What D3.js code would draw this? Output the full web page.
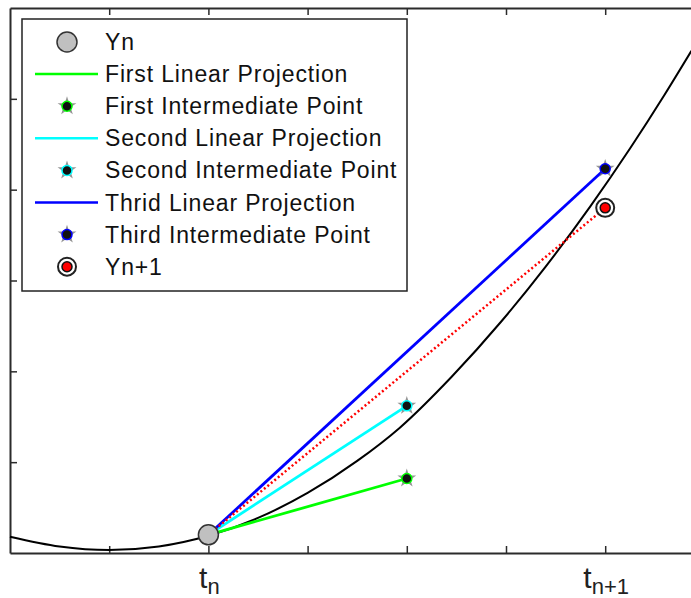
<!DOCTYPE html>
<html>
<head>
<meta charset="utf-8">
<script src="https://cdn.jsdelivr.net/npm/d3@7"></script>
<style>
  body { margin: 0; background: #fff; }
  text { font-family: "Liberation Sans", Arial, sans-serif; }
</style>
</head>
<body>
<div id="chart"></div>
<script>
// black reference curve
var curveT = [0, 0.5, 1.0, 1.5, 2.0, 2.5, 3.0, 3.5, 3.93, 4.45, 4.95, 5.4, 5.85, 6.25, 6.6, 6.87];
var curveY = [0.18, 0.072, 0.033, 0.072, 0.19, 0.386, 0.661, 1.014, 1.38, 1.938, 2.546, 3.153, 3.816, 4.453, 5.048, 5.53];

var yn = [2, 0.2];
var firstPoint = [4, 0.82];
var secondPoint = [4, 1.62];
var thirdPoint = [6, 4.23];
var ynext = [6, 3.8];

var xTicks = [1, 2, 3, 4, 5, 6];
var yTicks = [1, 2, 3, 4, 5];
var tickLabels = [{ t: 2, sub: 'n' }, { t: 6, sub: 'n+1' }];

var legendNames = ['Yn', 'First Linear Projection', 'First Intermediate Point',
  'Second Linear Projection', 'Second Intermediate Point', 'Thrid Linear Projection',
  'Third Intermediate Point', 'Yn+1'];

var w = 691
  , h = 598
  ;

var x = d3.scaleLinear().domain([0, 7]).range([10, 704.4])
  , y = d3.scaleLinear().domain([0, 6]).range([553, 8])
  ;

var svg = d3.select('#chart').append('svg')
  .attr('width', w).attr('height', h);

svg.append('rect').attr('width', w).attr('height', h).attr('fill', '#fff');

// axes box
var axisColor = '#2b2b2b';
function styleAxis(g) {
  g.select('.domain').attr('stroke', axisColor).attr('stroke-width', 2);
  g.selectAll('.tick line').attr('stroke', axisColor).attr('stroke-width', 1.5);
  g.selectAll('.tick text').remove();
}
svg.append('g').attr('transform', 'translate(0,' + y(0) + ')')
  .call(d3.axisBottom(x).tickValues(xTicks).tickSize(-7).tickSizeOuter(0).tickFormat(''))
  .call(styleAxis);
svg.append('g').attr('transform', 'translate(0,' + y(6) + ')')
  .call(d3.axisTop(x).tickValues(xTicks).tickSize(-7).tickSizeOuter(0).tickFormat(''))
  .call(styleAxis);
svg.append('g').attr('transform', 'translate(' + x(0) + ',0)')
  .call(d3.axisLeft(y).tickValues(yTicks).tickSize(-7).tickSizeOuter(0).tickFormat(''))
  .call(styleAxis);

// t_n labels
var lab = svg.selectAll('.tlab').data(tickLabels).enter().append('text')
  .attr('class', 'tlab')
  .attr('x', function (d) { return x(d.t) + 1; })
  .attr('y', 588)
  .attr('text-anchor', 'middle')
  .attr('fill', '#222');
lab.append('tspan').attr('font-size', 30).text('t');
lab.append('tspan').attr('font-size', 22).attr('dy', 6).text(function (d) { return d.sub; });

var plot = svg.append('g');

// reference curve
var curveData = curveT.map(function (t, i) { return [t, curveY[i]]; });
plot.append('path')
  .datum(curveData)
  .attr('fill', 'none')
  .attr('stroke', '#000')
  .attr('stroke-width', 2)
  .attr('d', d3.line().x(function (d) { return x(d[0]); }).y(function (d) { return y(d[1]); }).curve(d3.curveMonotoneX));

function seg(a, b, color, dash) {
  plot.append('line')
    .attr('x1', x(a[0])).attr('y1', y(a[1]))
    .attr('x2', x(b[0])).attr('y2', y(b[1]))
    .attr('stroke', color)
    .attr('stroke-width', dash ? 2.5 : 2.8)
    .attr('stroke-dasharray', dash || null);
}
seg(yn, firstPoint, '#00ff00');
seg(yn, secondPoint, '#00ffff');
seg(yn, thirdPoint, '#0000ff');
seg(yn, ynext, '#ff0000', '2,2.5');

// markers
function ynMarker(g) {
  g.append('circle').attr('r', 10).attr('fill', '#c0c0c0').attr('stroke', '#333').attr('stroke-width', 1.5);
}
function interMarker(color) {
  return function (g) {
    g.append('path').attr('d', d3.symbol().type(d3.symbolStar).size(110)()).attr('fill', '#666').attr('opacity', 0.7);
    g.append('circle').attr('r', 5).attr('fill', '#111').attr('stroke', color).attr('stroke-width', 1.5);
  };
}
function nextMarker(g) {
  g.append('circle').attr('r', 9).attr('fill', '#fff').attr('stroke', '#222').attr('stroke-width', 2);
  g.append('circle').attr('r', 5).attr('fill', '#ff0000').attr('stroke', '#111').attr('stroke-width', 1.5);
}

function place(p, fn) {
  plot.append('g').attr('transform', 'translate(' + x(p[0]) + ',' + y(p[1]) + ')').call(fn);
}
place(firstPoint, interMarker('#00ff00'));
place(secondPoint, interMarker('#00ffff'));
place(thirdPoint, interMarker('#0000ff'));
place(ynext, nextMarker);
place(yn, ynMarker);

// legend
var lg = svg.append('g');
lg.append('rect').attr('x', 22).attr('y', 19).attr('width', 385).attr('height', 272)
  .attr('fill', '#fff').attr('stroke', '#222').attr('stroke-width', 1.5);

var legendDraw = [
  ynMarker,
  { line: '#00ff00' },
  interMarker('#00ff00'),
  { line: '#00ffff' },
  interMarker('#00ffff'),
  { line: '#0000ff' },
  interMarker('#0000ff'),
  nextMarker
];

var rows = lg.selectAll('.row').data(legendNames).enter().append('g')
  .attr('class', 'row')
  .attr('transform', function (d, i) { return 'translate(0,' + (42 + i * 32.1) + ')'; });

rows.each(function (d, i) {
  var r = d3.select(this), item = legendDraw[i];
  if (item.line) {
    r.append('line').attr('x1', 35).attr('x2', 98).attr('stroke', item.line).attr('stroke-width', 2.5);
  } else {
    r.append('g').attr('transform', 'translate(67,0)').call(item);
  }
  r.append('text').attr('x', 105).attr('y', 8)
    .attr('font-size', 23).attr('letter-spacing', 0.85).attr('fill', '#111').text(d);
});
</script>
</body>
</html>
